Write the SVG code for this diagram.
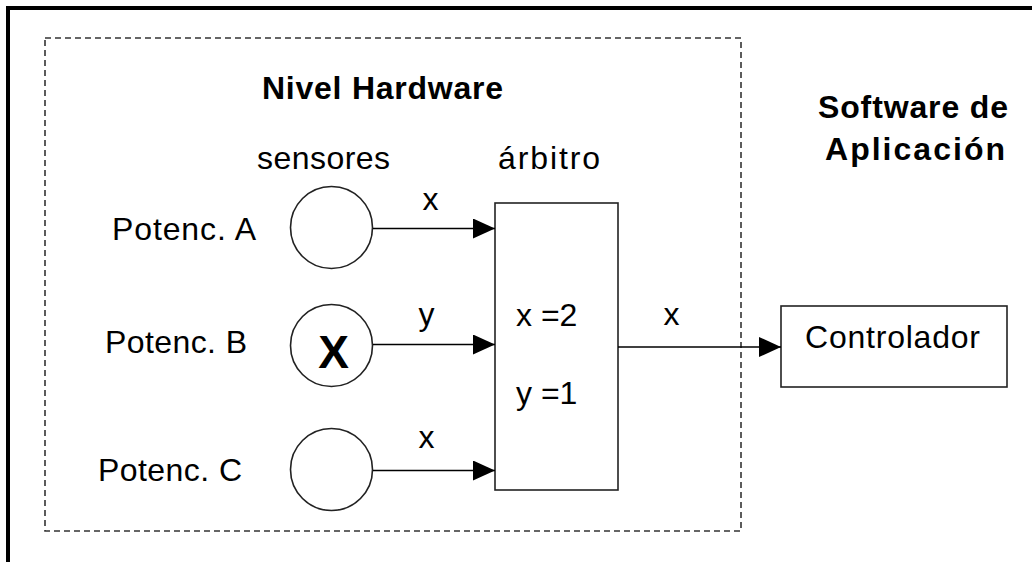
<svg xmlns="http://www.w3.org/2000/svg" width="1032" height="562" viewBox="0 0 1032 562">
<style>
text{font-family:"Liberation Sans",Arial,sans-serif;fill:#000}
.t{font-size:32px}
.b{font-size:32px;font-weight:bold}
.ln{stroke:#000;stroke-width:1.6;fill:none}
.nd{stroke:#222;stroke-width:1.6;fill:#fff}
</style>
<defs>
<marker id="ah" markerWidth="22" markerHeight="20" refX="22" refY="10" orient="auto" markerUnits="userSpaceOnUse">
<path d="M0,0 L22,10 L0,20 Z" fill="#000"/>
</marker>
</defs>
<rect width="1032" height="562" fill="#fff"/>
<g id="frame">
<path d="M6,8 H1032 M8,6 V562" stroke="#000" stroke-width="4" fill="none"/>
<rect x="45" y="38" width="696" height="493" fill="none" stroke="#333" stroke-width="1.6" stroke-dasharray="6 4"/>
</g>
<g id="labels">
<text class="b" x="262" y="99" textLength="241">Nivel Hardware</text>
<text class="t" x="257" y="169" textLength="133">sensores</text>
<text class="t" x="498" y="169" textLength="102">árbitro</text>
<text class="b" x="818" y="118" textLength="190">Software de</text>
<text class="b" x="825" y="160" textLength="180">Aplicación</text>
</g>
<g id="potA">
<text class="t" x="112" y="240" textLength="144">Potenc. A</text>
<circle class="nd" cx="331.5" cy="227.5" r="41"/>
</g>
<g id="potB">
<text class="t" x="105" y="353" textLength="142">Potenc. B</text>
<circle class="nd" cx="331.5" cy="345.5" r="41"/>
<text x="333.5" y="368" font-size="46" font-weight="bold" text-anchor="middle">X</text>
</g>
<g id="potC">
<text class="t" x="98" y="481" textLength="144">Potenc. C</text>
<circle class="nd" cx="331.5" cy="469.5" r="41"/>
</g>
<g id="arbitro">
<rect class="nd" x="495" y="203" width="123" height="287" fill="#fff"/>
<text class="t" x="516" y="326">x =2</text>
<text class="t" x="516" y="404">y =1</text>
</g>
<g id="controlador">
<rect class="nd" x="781" y="306" width="226" height="81"/>
<text class="t" x="805" y="348" textLength="175">Controlador</text>
</g>
<g id="connectors">
<line class="ln" x1="373" y1="228.5" x2="495" y2="228.5" marker-end="url(#ah)"/>
<line class="ln" x1="373" y1="344.5" x2="495" y2="344.5" marker-end="url(#ah)"/>
<line class="ln" x1="373" y1="470.5" x2="495" y2="470.5" marker-end="url(#ah)"/>
<line class="ln" x1="618" y1="347" x2="781" y2="347" marker-end="url(#ah)"/>
<text class="t" x="430.5" y="210" text-anchor="middle">x</text>
<text class="t" x="426.5" y="325" text-anchor="middle">y</text>
<text class="t" x="426.5" y="448" text-anchor="middle">x</text>
<text class="t" x="671.5" y="325" text-anchor="middle">x</text>
</g>
</svg>
